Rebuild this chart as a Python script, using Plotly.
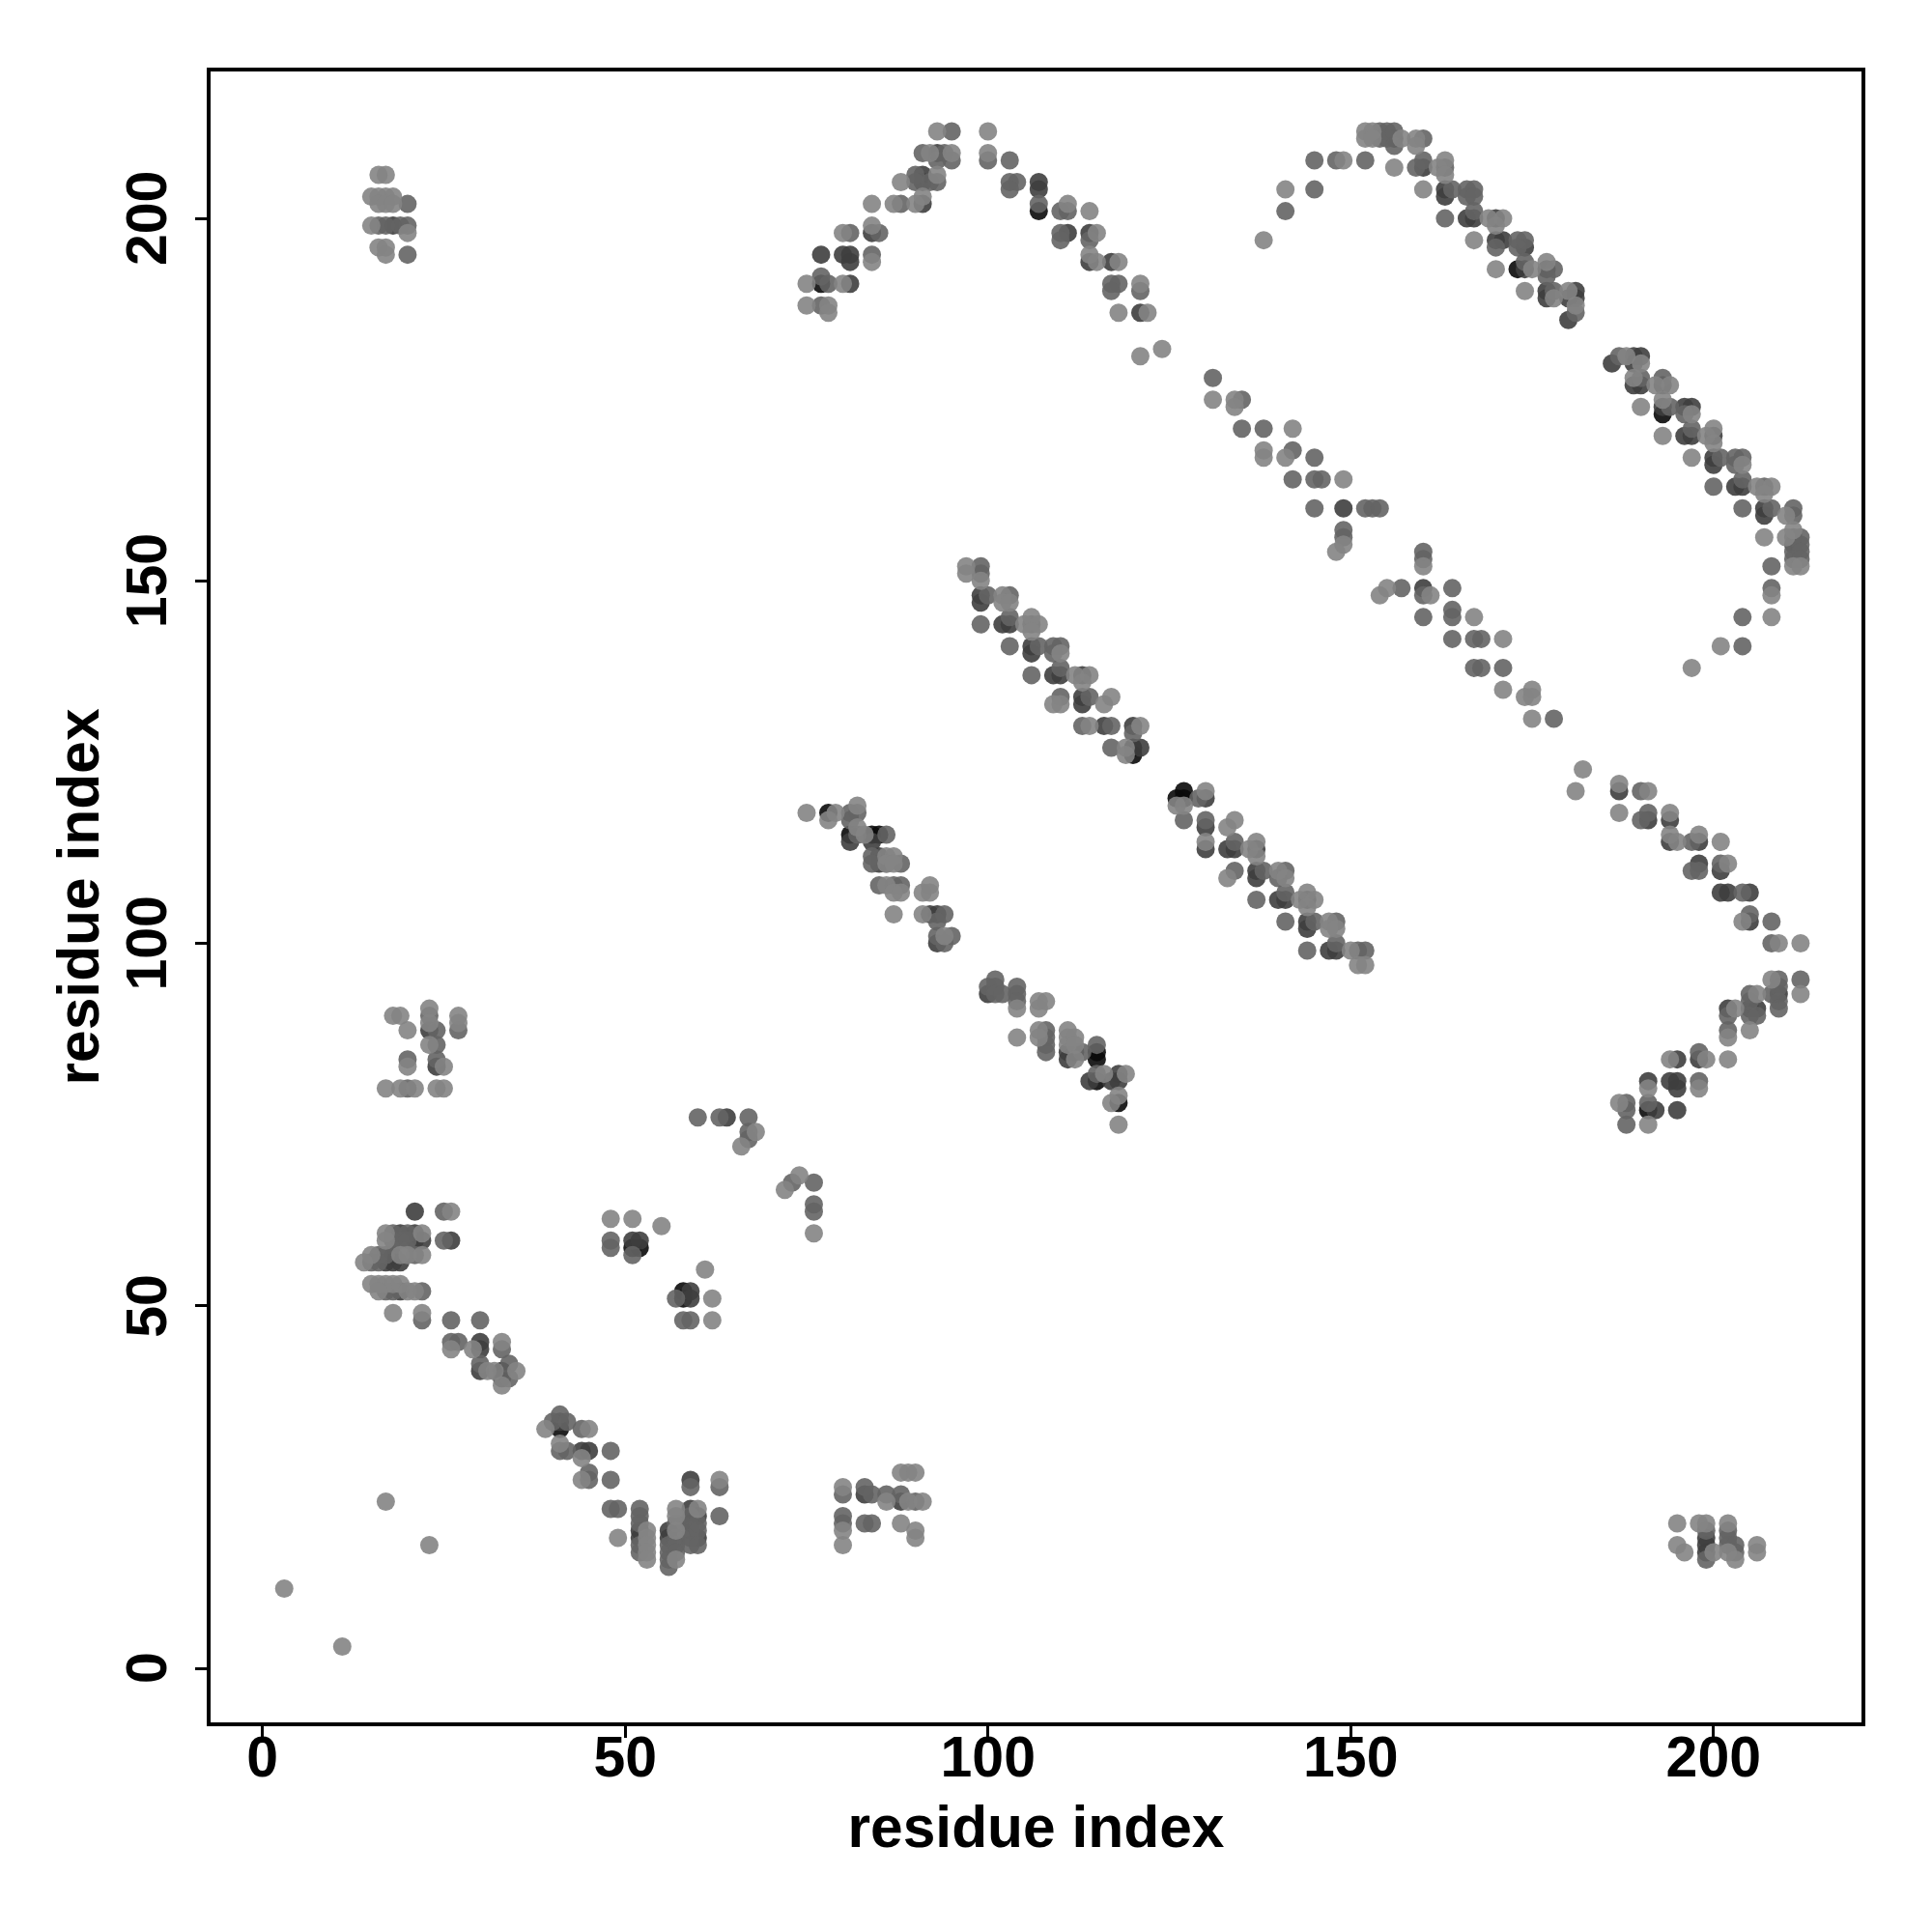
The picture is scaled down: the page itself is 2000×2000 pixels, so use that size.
import plotly.graph_objects as go

black_contacts = [(41,33),(33,41),(51,58),(52,58),(58,52),(58,51),(78,118),(84,115),(85,115),(81,115),(115,84),(115,85),(115,81),
 (118,78),(120,126),(120,127),(127,120),(126,120),(127,121),(77,191),(173,193),(193,173),(191,77),(107,201)]

dark_contacts = [(19,60),(21,60),(21,59),(22,59),(18,57),(17,56),(18,56),(19,56),(19,52),(30,45),(30,44),(30,41),(33,40),(41,34),
 (44,30),(45,30),(52,19),(52,18),(56,19),(56,18),(59,26),(59,22),(59,20),(60,21),(60,18),(83,24),(88,23),(51,59),(52,59),(59,52),(59,51),
 (23,88),(24,83),(64,76),(81,114),(84,114),(85,112),(85,111),(92,104),(93,104),(93,100),(100,93),(111,85),(111,84),(112,85),(114,81),
 (117,81),(118,82),(118,81),(99,148),(99,147),(102,144),(103,144),(106,141),(106,140),(109,137),(110,137),(113,137),(113,134),(113,133),
 (116,130),(120,130),(121,127),(130,116),(134,113),(137,113),(137,110),(137,109),(140,106),(141,106),(144,106),(144,103),(144,102),
 (147,99),(148,99),(130,120),(133,113),(130,113),(186,180),(189,181),(190,181),(189,180),(189,177),(190,177),(193,177),(193,174),
 (196,174),(197,174),(196,170),(197,170),(200,170),(200,167),(200,166),(203,163),(204,163),(207,160),(207,159),(211,155),
 (156,211),(160,207),(163,204),(163,203),(166,200),(167,200),(170,200),(170,197),(171,197),(174,196),(174,193),(177,193),(177,190),
 (177,189),(181,190),(181,189),(180,189),(180,186),(93,209),(91,206),(91,205),(91,202),(84,198),(77,195),(81,195),(81,194),(80,195),
 (81,191),(107,205),(107,204),(111,198),(114,198),(114,194),(117,194),(121,187),(187,121),(191,117),(194,114),(194,117),(198,114),
 (198,111),(201,110),(201,107),(202,107),(205,107),(205,103),(209,93),(205,91),(206,91),(202,91),(198,84),(195,84),(194,81),(195,81),
 (195,80),(192,77),(195,77),(191,81),(199,17),(199,16),(199,18),(18,199),(21,63),(26,59),(160,149),(149,160)]

mid_contacts = [(23,90),(24,88),(24,86),(20,84),(24,84),(20,80),(27,88),(25,63),(25,59),(18,60),(20,60),(18,59),(19,59),(20,59),(16,57),
 (17,57),(21,57),(15,56),(16,56),(17,52),(18,52),(22,52),(22,48),(26,48),(30,48),(26,45),(27,45),(33,44),(30,42),(34,42),(34,40),
 (60,76),(63,76),(67,76),(67,74),(67,73),(73,67),(76,67),(76,64),(76,63),(48,59),(48,58),(51,57),(57,51),(58,48),(59,48),
 (41,35),(40,34),(42,34),(44,33),(42,30),(41,30),(48,30),(45,27),(45,26),(48,26),(48,22),(49,22),(52,22),(52,21),(52,20),(52,17),(52,16),
 (56,17),(56,16),(56,15),(56,14),(57,20),(57,18),(57,17),(57,16),(59,25),(63,25),(59,21),(59,19),(59,18),(59,17),(60,20),(60,19),(60,17),(63,21),
 (80,24),(80,21),(80,20),(83,25),(84,24),(83,20),(84,20),(86,24),(88,24),(90,23),
 (81,118),(82,118),(81,117),(82,115),(86,115),(84,112),(84,111),(86,111),(88,111),(85,108),(87,108),(88,108),(94,104),(93,103),(93,101),(95,101),(94,100),
 (101,95),(100,94),(101,94),(101,93),(102,93),(104,94),(104,93),(104,92),(108,88),(108,87),(108,86),(108,85),(113,85),(115,86),(115,82),
 (99,152),(99,151),(100,148),(103,148),(99,144),(103,145),(106,144),(103,141),(107,141),(109,141),(110,141),(109,140),(106,137),(110,138),
 (110,134),(114,134),(113,130),(117,130),(120,129),(117,127),(127,117),(129,120),(130,117),(134,114),(134,110),(138,110),(141,110),(140,109),
 (137,106),(141,107),(141,103),(145,103),(148,103),(144,99),(148,100),(151,99),(152,99),
 (187,181),(190,178),(193,178),(194,174),(196,173),(197,171),(201,167),(203,167),(204,167),(203,166),(200,163),(204,164),(207,163),(204,160),
 (208,160),(211,160),(211,159),(211,156),(212,156),(211,154),(212,155),(212,154),(211,153),(212,153),(208,152),
 (141,201),(145,204),(145,208),(148,208),(152,208),(154,212),(154,211),(155,212),(155,211),(156,212),(156,210),(160,211),(159,207),(160,208),
 (163,207),(164,204),(166,204),(167,204),(166,203),(167,203),(163,200),(167,201),(170,196),(173,197),(174,197),(173,196),(174,194),(178,193),
 (177,192),(178,190),(181,187),(95,212),(91,209),(94,209),(93,208),(95,208),(100,208),(103,208),(90,206),(92,205),(93,205),(90,205),(103,205),
 (104,205),(103,204),(107,202),(88,202),(110,201),(111,201),(85,198),(81,198),(110,198),(110,197),(114,197),(84,195),(77,192),(78,191),(77,188),
 (117,191),(118,191),(117,190),(121,190),(131,178),(135,175),(135,171),(138,171),(142,168),(145,167),(142,164),(145,164),(146,164),(145,160),
 (152,160),(153,160),(154,160),(149,157),(149,156),(160,154),(160,153),(157,149),(164,149),(160,145),(164,146),(164,145),(164,142),(167,142),
 (168,142),(167,138),(168,138),(171,138),(178,131),(190,121),(190,117),(191,118),(197,114),(197,110),(198,110),(201,111),(204,107),(205,104),
 (208,103),(208,100),(209,95),(212,95),(208,93),(209,94),(209,92),(209,91),(205,93),(205,92),(205,90),(206,90),(202,90),(202,88),(198,85),
 (198,81),(191,78),(188,78),(188,77),(188,75),(199,19),(202,19),(202,18),(202,17),(203,17),(203,16),(199,15),(20,202),(20,195),(19,199),(20,199),
 (16,199),(17,199),(204,145),(204,141),(208,149),(160,148)]

light_contacts = [(3,11),(11,3),(17,23),(23,17),(18,90),(19,90),(20,88),(23,91),(23,89),(23,86),(20,83),(25,83),(17,80),(19,80),(21,80),(24,80),(25,80),
 (27,90),(27,89),(26,63),(17,60),(22,60),(17,59),(15,57),(19,57),(20,57),(22,57),(14,56),(15,53),(16,53),(17,53),(18,53),(19,53),(16,52),(20,52),(21,52),
 (18,49),(22,49),(26,44),(29,44),(33,45),(31,41),(32,41),(35,41),(33,39),(39,33),(45,33),(41,31),(44,29),(44,26),(49,18),(53,19),(53,18),(53,17),(53,16),(53,15),
 (57,22),(57,21),(57,19),(57,15),(60,22),(63,26),(80,25),(80,19),(80,17),(86,23),(88,20),(89,23),(91,23),(88,27),(89,27),(90,27),(90,19),(90,18),
 (66,72),(68,74),(72,66),(74,68),(76,60),(48,62),(51,62),(55,61),(61,55),(62,51),(62,48),
 (75,118),(79,118),(78,117),(82,119),(82,116),(83,115),(86,112),(87,112),(86,111),(87,111),(86,108),(87,107),(88,107),(91,107),(92,108),(92,107),(87,104),(91,104),(94,101),
 (104,91),(107,92),(108,92),(107,91),(104,87),(107,88),(107,87),(111,88),(111,87),(111,86),(112,87),(112,86),(112,84),(116,82),(119,82),(118,79),(117,78),(118,75),
 (97,152),(97,151),(99,150),(102,148),(102,147),(103,147),(105,144),(106,145),(107,144),(106,143),(110,140),(112,137),(114,137),(113,136),(110,133),(109,133),(116,133),(117,134),
 (114,130),(121,130),(119,127),(119,126),(126,119),(127,119),(130,121),(130,114),(133,116),(134,117),(136,113),(137,114),(137,112),(133,109),(140,110),(141,109),
 (143,106),(144,107),(145,106),(144,105),(147,103),(147,102),(148,102),(150,99),(151,97),(152,97),
 (188,181),(190,180),(189,178),(190,174),(192,177),(194,177),(193,175),(193,170),(197,173),(199,170),(200,171),(200,169),(197,167),(204,166),(206,163),(208,163),(207,162),
 (210,159),(207,156),(210,156),(211,157),(211,152),(212,152),(208,148),(208,145),(201,141),(197,138),
 (138,197),(141,204),(149,208),(152,212),(152,211),(153,212),(153,211),(157,211),(156,207),(159,211),(159,210),(162,207),(163,208),(163,206),(160,204),
 (169,200),(171,200),(170,199),(167,197),(175,193),(177,194),(170,193),(174,190),(180,190),(178,189),(181,188),
 (93,212),(100,212),(92,209),(95,209),(100,209),(93,206),(88,205),(91,203),(90,202),(87,202),(84,202),(111,202),(114,201),(84,199),(80,198),(115,198),(114,195),(115,194),(118,194),
 (84,194),(75,191),(80,191),(75,188),(78,188),(78,187),(121,191),(118,187),(122,187),(121,181),(124,182),
 (131,175),(134,175),(134,174),(138,168),(138,167),(141,167),(142,171),(149,164),(148,154),(149,155),(160,152),(154,148),(155,149),(161,148),(167,145),(171,142),(171,135),(175,135),
 (174,134),(175,134),(175,131),(182,124),(181,121),(187,122),(187,118),(191,121),(194,118),(194,115),(195,114),(198,115),(201,114),(202,111),(204,103),
 (209,100),(212,100),(208,95),(212,93),(206,93),(205,88),(203,91),(202,87),(199,84),(202,84),(194,84),(198,80),(191,80),(187,78),(191,75),
 (195,20),(195,17),(196,16),(198,20),(199,20),(202,20),(203,15),(206,17),(206,16),(202,16),(200,16),
 (16,206),(17,206),(15,203),(16,203),(17,203),(18,203),(16,202),(17,202),(18,202),(15,199),(20,198),(16,196),(17,196),(17,195)]

tiers = [
    (black_contacts, "rgb(10,10,10)"),
    (dark_contacts, "rgb(62,62,62)"),
    (mid_contacts, "rgb(100,100,100)"),
    (light_contacts, "rgb(132,132,132)"),
]
axis_ticks = [0, 50, 100, 150, 200]
axis_label = "residue index"

fig = go.Figure()
for points, colour in tiers:
    xs, ys = zip(*points)
    fig.add_trace(go.Scatter(x=list(xs), y=list(ys), mode="markers", showlegend=False,
                             marker=dict(size=19, color=colour, opacity=0.9, line=dict(width=0))))

common = dict(tickvals=axis_ticks, ticks="outside", ticklen=12, tickwidth=3, tickcolor="black",
              linecolor="black", linewidth=3.5, mirror=True, showline=True, showgrid=False, zeroline=False)
tick_font = dict(family="Liberation Sans", size=59, color="black", weight="bold")
title_font = dict(family="Liberation Sans", size=60.5, color="black", weight="bold")
fig.update_xaxes(range=[-7.15, 220.4], tickfont=tick_font, ticklabelstandoff=-31,
                 title=dict(text=axis_label, font=title_font, standoff=20), **common)
fig.update_yaxes(range=[-7.46, 220.27], showticklabels=False, **common)
for t in axis_ticks:
    fig.add_annotation(text=str(t), x=0, xref="paper", y=t, yref="y", xshift=-66, textangle=-90,
                       showarrow=False, font=tick_font, xanchor="center", yanchor="middle")
fig.add_annotation(text=axis_label, x=0, xref="paper", y=0.5, yref="paper", xshift=-138, textangle=-90,
                   showarrow=False, font=title_font, xanchor="center", yanchor="middle")
fig.update_layout(width=1984, height=1984, autosize=False, paper_bgcolor="white", plot_bgcolor="white",
                  margin=dict(l=210, r=65, t=65.5, b=209))
fig.write_html("out.html")
